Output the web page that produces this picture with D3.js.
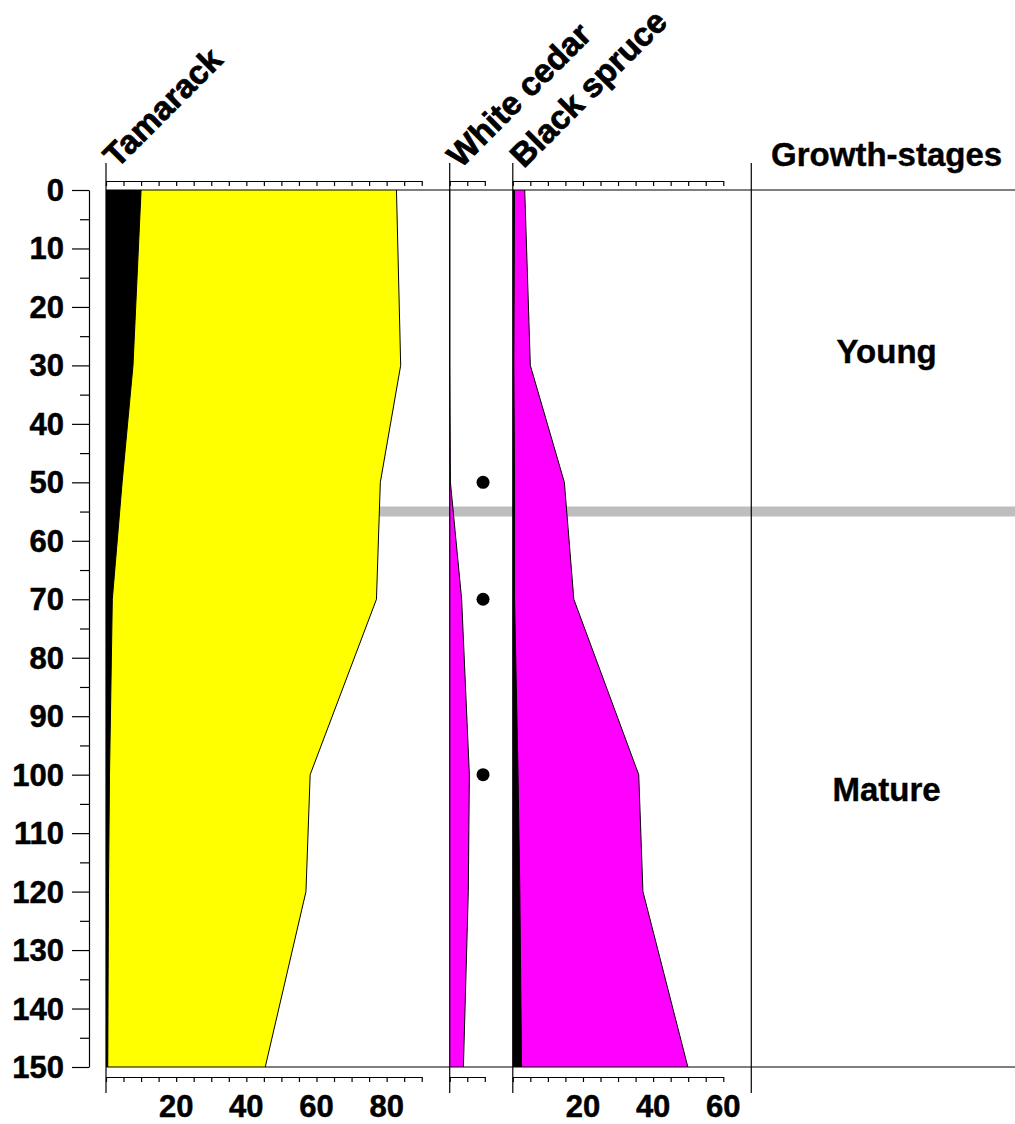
<!DOCTYPE html>
<html>
<head>
<meta charset="utf-8">
<script src="https://cdn.jsdelivr.net/npm/d3@7"></script>
<style>
  body { margin: 0; background: #fff; }
  text { font-family: "Liberation Sans", Arial, sans-serif; font-weight: bold; fill: #000; }
</style>
</head>
<body>
<svg id="chart" width="1015" height="1124"></svg>
<script>
// depth samples (y axis)
const depths = [0, 30, 50, 70, 100, 120, 150];

// Tamarack: outer yellow curve and inner black curve
const tamarack = [82.8, 84, 78.2, 77.1, 58.2, 57, 45.4];
const tamarackInner = [10, 7.7, 4.6, 1.8, 1.0, 0.7, 0.5];

// White cedar
const whiteCedar = [0, 0, 0.2, 3.4, 5.6, 5.3, 3.9];
const whiteCedarDots = [50, 70, 100];
const whiteCedarDotValue = 9.5;

// Black spruce: outer magenta curve and inner black curve
const blackSpruce = [3.4, 5, 14.7, 17.4, 35.9, 37.1, 49.9];
const blackSpruceInner = [0.5, 0.3, 0.5, 0.5, 1.5, 2.0, 2.5];

// growth stages zones
const stages = [
  { name: 'Young', from: 0, to: 55 },
  { name: 'Mature', from: 55, to: 150 }
];
const stageBoundary = 55;

const yTicks = d3.range(0, 151, 10);

const svg = d3.select('#chart');

const top0 = 190;
const bottom0 = 1067;
const unit = 3.508; // px per percent, shared by all panels
const gap = 28;

const y = d3.scaleLinear().domain([0, 150]).range([top0, bottom0]);

const panels = [
  { name: 'Tamarack', max: 90, labels: [20, 40, 60, 80] },
  { name: 'White cedar', max: 10, labels: [] },
  { name: 'Black spruce', max: 60, labels: [20, 40, 60] }
];

let cursor = 106;
panels.forEach((p) => {
  p.left = cursor;
  p.x = d3.scaleLinear().domain([0, p.max]).range([cursor, cursor + p.max * unit]);
  cursor += p.max * unit + gap;
});
const stageLeft = cursor;

// grey boundary band, sits under the fills
svg
  .append('line')
  .attr('x1', panels[0].left)
  .attr('x2', 1015)
  .attr('y1', y(stageBoundary))
  .attr('y2', y(stageBoundary))
  .attr('stroke', '#bebebe')
  .attr('stroke-width', 10);

function drawArea(x, values, fill) {
  const pts = depths.map((d, i) => [d, values[i]]);
  const area = d3
    .area()
    .y((d) => y(d[0]))
    .x0(x(0))
    .x1((d) => x(d[1]));
  svg.append('path').datum(pts).attr('d', area).attr('fill', fill).attr('stroke', 'none');
  const line = d3
    .line()
    .y((d) => y(d[0]))
    .x((d) => x(d[1]));
  svg.append('path').datum(pts).attr('d', line).attr('fill', 'none').attr('stroke', '#000').attr('stroke-width', 1);
}

drawArea(panels[0].x, tamarack, '#ffff00');
drawArea(panels[0].x, tamarackInner, '#000');
drawArea(panels[1].x, whiteCedar, '#ff00ff');
drawArea(panels[2].x, blackSpruce, '#ff00ff');
drawArea(panels[2].x, blackSpruceInner, '#000');

svg
  .selectAll('.dot')
  .data(whiteCedarDots)
  .join('circle')
  .attr('class', 'dot')
  .attr('cx', panels[1].x(whiteCedarDotValue))
  .attr('cy', (d) => y(d))
  .attr('r', 6.5)
  .attr('fill', '#000');

// top and bottom horizontal lines
[0, 150].forEach((d) => {
  svg
    .append('line')
    .attr('x1', panels[0].left)
    .attr('x2', 1015)
    .attr('y1', y(d))
    .attr('y2', y(d))
    .attr('stroke', '#000')
    .attr('stroke-width', 1.2);
});

// panel axes
panels.forEach((p) => {
  svg
    .append('line')
    .attr('x1', p.left)
    .attr('x2', p.left)
    .attr('y1', 163)
    .attr('y2', 1093)
    .attr('stroke', '#000')
    .attr('stroke-width', 1.2);

  const ticks = d3.range(0, p.max + 1, 5);
  [181, 1077].forEach((ay) => {
    const g = svg.append('g').attr('transform', `translate(0,${ay})`);
    g.call(d3.axisBottom(p.x).tickValues(ticks).tickSize(5).tickSizeOuter(0).tickFormat(''));
    g.select('.domain').attr('stroke', '#000').attr('stroke-width', 1.2);
    g.selectAll('.tick line').attr('stroke', '#000').attr('stroke-width', 1.2);
  });

  svg
    .selectAll(null)
    .data(p.labels)
    .join('text')
    .attr('x', (d) => p.x(d))
    .attr('y', 1117)
    .attr('text-anchor', 'middle')
    .attr('font-size', 31)
    .attr('stroke', '#000')
    .attr('stroke-width', 0.5)
    .text((d) => d);

  svg
    .append('text')
    .attr('transform', `translate(${p.left + 11},169) rotate(-45)`)
    .attr('font-size', 33)
    .attr('stroke', '#000')
    .attr('stroke-width', 0.8)
    .text(p.name);
});

// growth stages column
svg
  .append('line')
  .attr('x1', stageLeft)
  .attr('x2', stageLeft)
  .attr('y1', 163)
  .attr('y2', 1093)
  .attr('stroke', '#000')
  .attr('stroke-width', 1.2);

const stageMid = (stageLeft + 1022) / 2;

svg
  .append('text')
  .attr('x', stageMid)
  .attr('y', 166)
  .attr('text-anchor', 'middle')
  .attr('font-size', 33)
  .attr('stroke', '#000')
  .attr('stroke-width', 0.4)
  .text('Growth-stages');

svg
  .selectAll('.stage')
  .data(stages)
  .join('text')
  .attr('class', 'stage')
  .attr('x', stageMid)
  .attr('y', (d) => y((d.from + d.to) / 2) + 12)
  .attr('text-anchor', 'middle')
  .attr('font-size', 33)
  .attr('stroke', '#000')
  .attr('stroke-width', 0.4)
  .text((d) => d.name);

// depth axis
const yAxisG = svg.append('g').attr('transform', 'translate(89,0)');
yAxisG.call(
  d3
    .axisLeft(y)
    .tickValues(d3.range(0, 151, 5))
    .tickSize(17)
    .tickSizeOuter(0)
    .tickFormat('')
);
yAxisG.select('.domain').attr('stroke', '#000').attr('stroke-width', 1.2);
yAxisG
  .selectAll('.tick line')
  .attr('stroke', '#000')
  .attr('stroke-width', 1.2)
  .attr('x2', (d) => (d % 10 === 0 ? -17 : -9));

svg
  .selectAll('.ylab')
  .data(yTicks)
  .join('text')
  .attr('class', 'ylab')
  .attr('x', 64)
  .attr('y', (d) => y(d) + 11)
  .attr('text-anchor', 'end')
  .attr('font-size', 31)
  .attr('stroke', '#000')
  .attr('stroke-width', 0.5)
  .text((d) => d);
</script>
</body>
</html>
